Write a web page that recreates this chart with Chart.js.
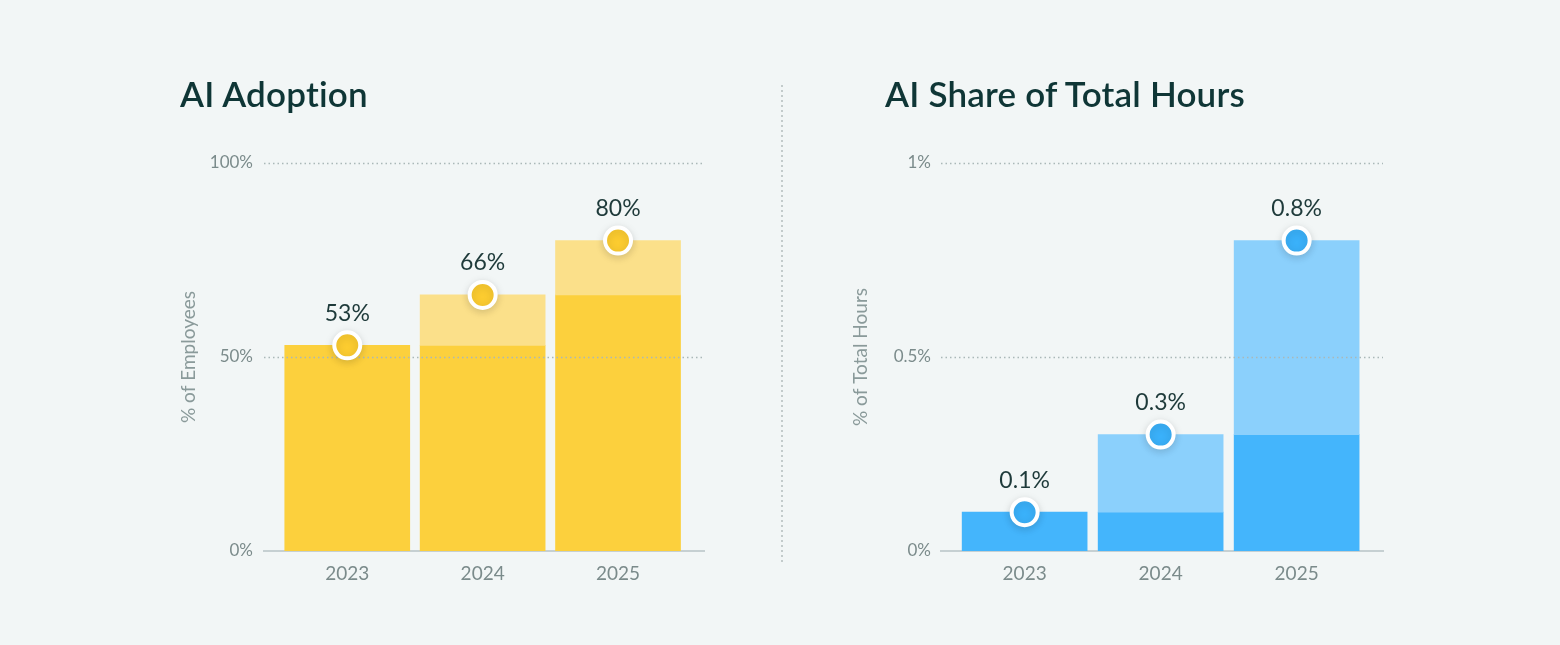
<!DOCTYPE html>
<html>
<head>
<meta charset="utf-8">
<script src="https://cdn.jsdelivr.net/npm/chart.js@4"></script>
<style>
html,body{margin:0;padding:0;background:#f2f6f6;}
#wrap{position:relative;width:1560px;height:645px;background:#f2f6f6;overflow:hidden;font-family:Lato,sans-serif;}
.box{position:absolute;top:0;width:780px;height:645px;}
.title{position:absolute;top:76px;font-size:35px;line-height:1;font-weight:600;color:#0f3636;white-space:nowrap;letter-spacing:0.2px;}
#divider{position:absolute;left:781px;top:85px;width:2px;height:477px;background:repeating-linear-gradient(to bottom,#c3cbcb 0 2px,transparent 2px 5px);}
</style>
</head>
<body>
<div id="wrap">
  <div class="box" style="left:0"><canvas id="c1"></canvas></div>
  <div class="box" style="left:780px"><canvas id="c2"></canvas></div>
  <div class="title" style="left:180px">AI Adoption</div>
  <div class="title" style="left:885px">AI Share of Total Hours</div>
  <div id="divider"></div>
</div>
<script>
// ---- data ----
const years = ['2023', '2024', '2025'];

const adoptionTotal = [53, 66, 80];      // % of employees
const adoptionBase  = [53, 53, 66];      // previous year's level (darker part)
const adoptionTicks = [0, 50, 100];

const hoursTotal = [0.1, 0.3, 0.8];      // % of total hours
const hoursBase  = [0.1, 0.1, 0.3];
const hoursTicks = [0, 0.5, 1];

// ---- plugins ----
const gridUnderPoints = {
  id: 'gridUnderPoints',
  beforeDatasetDraw(chart, args) {
    if (args.meta.type !== 'line') return;
    const { ctx, chartArea, scales: { y } } = chart;
    ctx.save();
    ctx.strokeStyle = '#aab8b8';
    ctx.lineWidth = 1.5;
    ctx.setLineDash([1.5, 3]);
    y.ticks.forEach(t => {
      if (t.value === y.min) return;
      const py = Math.round(y.getPixelForValue(t.value)) + 0.5;
      ctx.beginPath();
      ctx.moveTo(chartArea.left, py);
      ctx.lineTo(chartArea.right, py);
      ctx.stroke();
    });
    ctx.restore();
    ctx.save();
    ctx.shadowColor = 'rgba(0,0,0,0.14)';
    ctx.shadowBlur = 8;
    ctx.shadowOffsetY = 2;
  },
  afterDatasetDraw(chart, args) {
    if (args.meta.type !== 'line') return;
    chart.ctx.restore();
  },
  afterDatasetsDraw(chart) {
    const { ctx } = chart;
    const meta = chart.getDatasetMeta(0);
    const ds = chart.data.datasets[0];
    ctx.save();
    ctx.fillStyle = '#1e3a3a';
    ctx.font = '400 23px Lato, sans-serif';
    ctx.textAlign = 'center';
    ctx.textBaseline = 'middle';
    meta.data.forEach((el, i) => {
      ctx.fillText(ds.data[i].y + '%', el.x, el.y - 32);
    });
    ctx.restore();
  }
};

function makeChart(id, o) {
  return new Chart(document.getElementById(id), {
    data: {
      datasets: [
        {
          type: 'line',
          data: o.total.map((v, i) => ({ x: i, y: v })),
          showLine: false,
          pointRadius: 13,
          pointHoverRadius: 13,
          pointBackgroundColor: o.pointColor,
          pointBorderColor: '#ffffff',
          pointBorderWidth: 4,
          order: 0
        },
        {
          type: 'bar',
          data: o.total.map((v, i) => ({ x: i, y: v > o.base[i] ? [o.base[i], v] : null })),
          backgroundColor: o.light,
          barThickness: 125,
          grouped: false,
          order: 1
        },
        {
          type: 'bar',
          data: o.base.map((v, i) => ({ x: i, y: v })),
          backgroundColor: o.dark,
          barThickness: 125,
          grouped: false,
          order: 2
        }
      ]
    },
    options: {
      responsive: true,
      maintainAspectRatio: false,
      animation: false,
      events: [],
      layout: { padding: { left: o.padLeft, right: o.padRight, top: 163, bottom: 34 } },
      plugins: { legend: { display: false }, tooltip: { enabled: false } },
      scales: {
        x: {
          type: 'linear',
          min: -0.615,
          max: 2.635,
          offset: false,
          bounds: 'ticks',
          z: 2,
          grid: { display: false, drawTicks: false, offset: false },
          border: { display: true, color: '#c6d0d2', width: 2 },
          afterBuildTicks: s => { s.ticks = years.map((y, i) => ({ value: i })); },
          afterFit: s => { s.height = 60; },
          ticks: {
            color: '#7b8b8b',
            font: { family: 'Lato', size: 19 },
            padding: 11,
            callback: v => years[v]
          }
        },
        y: {
          min: 0,
          max: o.ticks[o.ticks.length - 1],
          grid: { display: false, drawTicks: false },
          border: { display: false },
          afterBuildTicks: s => { s.ticks = o.ticks.map(v => ({ value: v })); },
          afterFit: s => { s.width = o.yWidth; },
          ticks: {
            color: '#7b8b8b',
            font: { family: 'Lato', size: 17 },
            padding: o.tickPad,
            callback: v => v + '%'
          },
          title: {
            display: true,
            text: o.yTitle,
            color: '#8a9a9a',
            font: { family: 'Lato', size: 19 },
            padding: { top: 0, bottom: 0 }
          }
        }
      }
    },
    plugins: [gridUnderPoints]
  });
}

makeChart('c1', {
  total: adoptionTotal, base: adoptionBase, ticks: adoptionTicks,
  dark: '#fcd03d', light: '#fbe08a', pointColor: '#fccc30',
  yTitle: '% of Employees', padLeft: 177, padRight: 76, yWidth: 87, tickPad: 11
});
makeChart('c2', {
  total: hoursTotal, base: hoursBase, ticks: hoursTicks,
  dark: '#44b5fc', light: '#8bd0fc', pointColor: '#3ab1fa',
  yTitle: '% of Total Hours', padLeft: 69, padRight: 177, yWidth: 92, tickPad: 10
});
</script>
</body>
</html>
